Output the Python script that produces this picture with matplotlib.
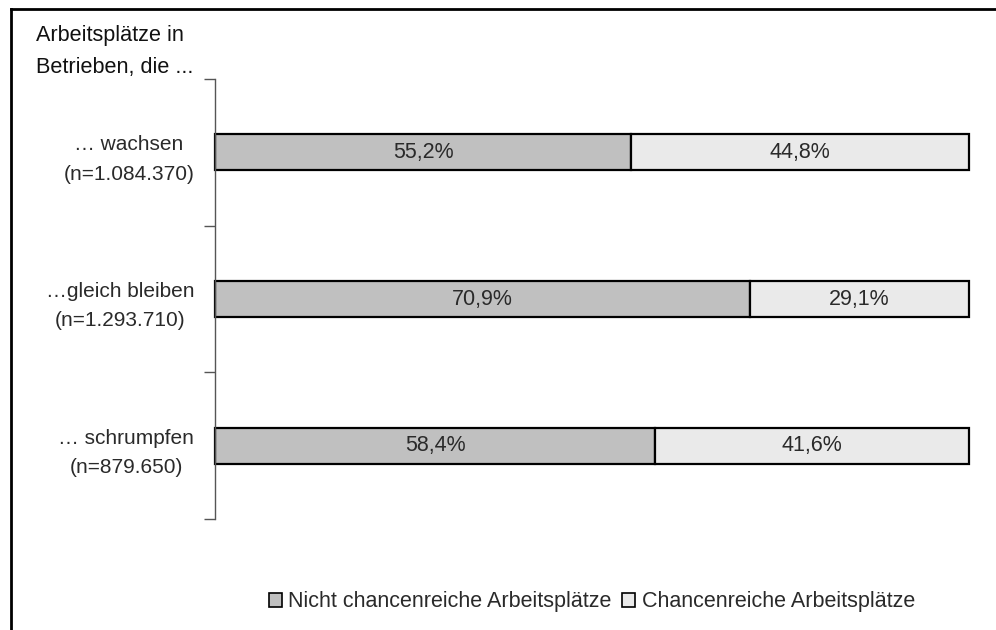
import matplotlib
matplotlib.use("Agg")
import matplotlib.pyplot as plt
from matplotlib.patches import Patch
from matplotlib.lines import Line2D

plt.rcParams['font.family'] = ['Liberation Sans', 'DejaVu Sans']

categories = ["… wachsen\n(n=1.084.370)",
              "…gleich bleiben\n(n=1.293.710)",
              "… schrumpfen\n(n=879.650)"]
nicht_chancenreich = [55.2, 70.9, 58.4]
chancenreich = [44.8, 29.1, 41.6]
series_names = ["Nicht chancenreiche Arbeitsplätze", "Chancenreiche Arbeitsplätze"]
title_text = "Arbeitsplätze in\nBetrieben, die ..."

W, H = 996, 630
fig = plt.figure(figsize=(W / 100, H / 100), dpi=100)
ax = fig.add_axes([215 / W, 1 - 519 / H, (969 - 215) / W, (519 - 79) / H])

ypos = list(range(len(categories)))
bar_h = 0.245
dark, light = "#c0c0c0", "#eaeaea"

b1 = ax.barh(ypos, nicht_chancenreich, height=bar_h, color=dark,
             edgecolor="black", linewidth=1.6, clip_on=False)
b2 = ax.barh(ypos, chancenreich, left=nicht_chancenreich, height=bar_h,
             color=light, edgecolor="black", linewidth=1.6, clip_on=False)

for y, a, b in zip(ypos, nicht_chancenreich, chancenreich):
    ax.text(a / 2, y, f"{a:.1f}%".replace(".", ","), ha="center", va="center",
            fontsize=15.5, color="#2a2a2a")
    ax.text(a + b / 2, y, f"{b:.1f}%".replace(".", ","), ha="center", va="center",
            fontsize=15.5, color="#2a2a2a")

ax.set_xlim(0, 100)
ax.set_ylim(len(categories) - 0.5, -0.5)
ax.set_xticks([])
ax.set_yticks([i - 0.5 for i in range(len(categories) + 1)], minor=False)
ax.set_yticklabels([])
ax.set_yticks(ypos, minor=True)
ax.set_yticklabels(categories, minor=True, fontsize=15, color="#2a2a2a",
                   linespacing=1.68, ha="right", ma="center")
ax.tick_params(axis="y", which="major", length=8, width=1, color="#555555", direction="out")
ax.tick_params(axis="y", which="minor", length=0, pad=15)
for s in ["top", "right", "bottom"]:
    ax.spines[s].set_visible(False)
ax.spines["left"].set_color("#555555")
ax.spines["left"].set_linewidth(1)

fig.text(36 / W, 1 - 25 / H, title_text, ha="left", va="top", fontsize=15.6,
         color="#111111", linespacing=1.7)

handles = [Patch(facecolor=dark, edgecolor="black", linewidth=1.2),
           Patch(facecolor=light, edgecolor="black", linewidth=1.2)]
fig.legend(handles, series_names, loc="center", bbox_to_anchor=(592 / W, 1 - 602 / H),
           ncol=2, frameon=False, fontsize=15.5, handlelength=0.6, handleheight=0.6,
           handletextpad=0.3, columnspacing=0.5, labelcolor="#2a2a2a")

# outer frame lines
fig.add_artist(Line2D([11 / W, 11 / W], [0, 1 - 9 / H], color="black", linewidth=2,
                      transform=fig.transFigure))
fig.add_artist(Line2D([11 / W, 1], [1 - 9 / H, 1 - 9 / H], color="black", linewidth=2,
                      transform=fig.transFigure))

fig.savefig("out.png", dpi=100)
